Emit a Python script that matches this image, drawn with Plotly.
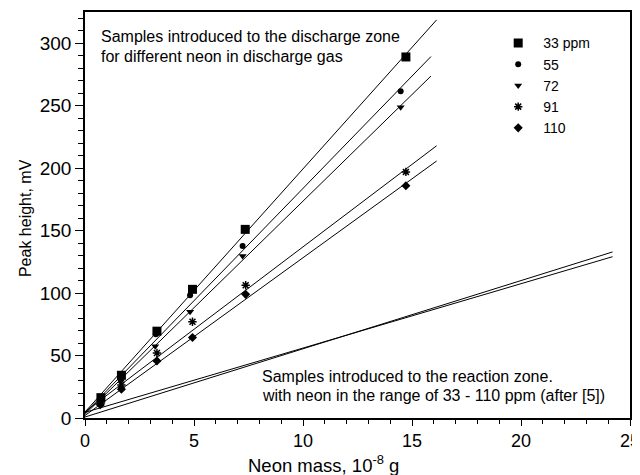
import plotly.graph_objects as go

# ---- data ----
series_names = ["33 ppm", "55", "72", "91", "110"]
x_33 = [0.73, 1.67, 3.30, 4.93, 7.35, 14.72]
y_33 = [16.3, 34.2, 69.5, 103.0, 151.0, 289.0]
x_55 = [0.72, 1.65, 3.25, 4.82, 7.23, 14.48]
y_55 = [14.5, 32.0, 67.0, 98.3, 137.6, 261.5]
x_72 = [0.72, 1.65, 3.22, 4.82, 7.23, 14.48]
y_72 = [13.0, 29.5, 57.4, 85.0, 129.6, 248.7]
x_91 = [0.73, 1.67, 3.30, 4.93, 7.37, 14.72]
y_91 = [12.0, 26.5, 52.0, 77.0, 106.3, 197.0]
x_110 = [0.70, 1.67, 3.30, 4.93, 7.37, 14.72]
y_110 = [10.7, 23.0, 45.7, 64.4, 99.0, 185.9]

# linear fits (intercept, slope, end of line) for the discharge zone series
fit_intercept = [4.8, 4.0, 3.0, 5.0, 2.0]
fit_slope = [19.46, 17.98, 17.06, 13.2, 12.63]
fit_xend = [16.13, 15.87, 15.87, 16.13, 16.13]

# reaction zone lines (after [5])
react_intercept = [4.5, 0.8]
react_slope = [5.15, 5.46]
react_xend = [24.2, 24.2]

symbols = ["square", "circle", "triangle-down", "asterisk-open", "diamond"]
sizes = [9, 6, 7, 7, 7]

xs = [x_33, x_55, x_72, x_91, x_110]
ys = [y_33, y_55, y_72, y_91, y_110]

FONT = "Liberation Sans, Arial, sans-serif"

fig = go.Figure()

for i in range(5):
    xe = fit_xend[i]
    fig.add_trace(go.Scatter(
        x=[0, xe], y=[fit_intercept[i], fit_intercept[i] + fit_slope[i] * xe],
        mode="lines", line=dict(color="black", width=1), showlegend=False,
        hoverinfo="skip"))

for i in range(2):
    xe = react_xend[i]
    fig.add_trace(go.Scatter(
        x=[0, xe], y=[react_intercept[i], react_intercept[i] + react_slope[i] * xe],
        mode="lines", line=dict(color="black", width=1), showlegend=False,
        hoverinfo="skip"))

for i in range(5):
    fig.add_trace(go.Scatter(
        x=xs[i], y=ys[i], mode="markers", name=series_names[i],
        marker=dict(symbol=symbols[i], size=sizes[i], color="black",
                    line=dict(color="black", width=1.5 if i == 3 else 0))))

# the page body has an 8px default margin: size the figure so it fills 640x475
fig.update_layout(
    width=632, height=467,
    margin=dict(l=77, r=10, t=4, b=57),
    paper_bgcolor="white", plot_bgcolor="white",
    font=dict(family=FONT, color="black"),
    showlegend=True,
    legend=dict(x=0.749, y=0.962, xanchor="left", yanchor="top",
                font=dict(size=14, family=FONT), itemwidth=40,
                bgcolor="rgba(0,0,0,0)", borderwidth=0),
)

fig.update_xaxes(
    range=[0, 25], tickvals=[0, 5, 10, 15, 20, 25], automargin=False,
    ticklabeloverflow="allow",
    ticks="outside", ticklen=6, tickwidth=1.2, tickcolor="black",
    minor=dict(dtick=1, ticks="outside", ticklen=4, tickwidth=1, tickcolor="black"),
    showline=True, linecolor="black", linewidth=1.5, mirror=True,
    showgrid=False, zeroline=False,
    tickfont=dict(size=18, family=FONT, color="black"),
)
fig.update_yaxes(
    range=[0, 325], tickvals=[0, 50, 100, 150, 200, 250, 300], automargin=False,
    ticks="outside", ticklen=8, tickwidth=1.2, tickcolor="black",
    minor=dict(dtick=10, ticks="outside", ticklen=5, tickwidth=1, tickcolor="black"),
    showline=True, linecolor="black", linewidth=1.5, mirror=True,
    showgrid=False, zeroline=False,
    tickfont=dict(size=19, family=FONT, color="black"),
)

note_lines = ["Samples introduced to the discharge zone",
              "for different neon in discharge gas",
              "Samples introduced to the reaction zone.",
              "with neon in the range of 33 - 110 ppm (after [5])"]
note_x = [0.64, 0.64, 8.03, 8.03]
note_y = [305.0, 289.7, 33.4, 18.2]
for t, nx, ny in zip(note_lines, note_x, note_y):
    fig.add_annotation(
        x=nx, y=ny, xref="x", yref="y", xanchor="left", yanchor="middle",
        align="left", showarrow=False, font=dict(size=16, family=FONT, color="black"),
        text=t)

# axis titles
fig.add_annotation(
    x=0.4385, y=-0.114, xref="paper", yref="paper", xanchor="center", yanchor="middle",
    showarrow=False, font=dict(size=18.5, family=FONT, color="black"),
    text="Neon mass, 10<sup>-8</sup> g")
fig.add_annotation(
    x=-0.11, y=0.4926, xref="paper", yref="paper", xanchor="center", yanchor="middle",
    showarrow=False, textangle=-90, font=dict(size=16, family=FONT, color="black"),
    text="Peak height, mV")

fig.write_html("out.html")
